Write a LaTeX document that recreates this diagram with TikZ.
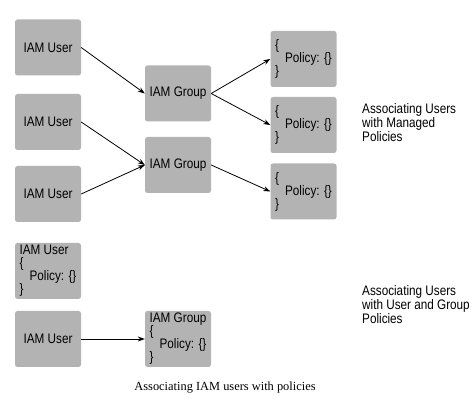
\documentclass[tikz,border=0pt]{standalone}
\usepackage{fontspec}
\usepackage{xcolor}
\usepackage{tikz}
\usetikzlibrary{arrows.meta}
\newfontfamily\boxfont{Liberation Sans}[FakeStretch=0.85]
\newfontfamily\capfont{Liberation Serif}
\definecolor{boxgray}{HTML}{B3B3B3}

\begin{document}
\begin{tikzpicture}[
        x=1pt, y=-1pt,
        box/.style={fill=boxgray, rounded corners=2.5pt, minimum width=66pt, minimum height=56pt, inner sep=0pt, align=left, font=\fontsize{13.8}{13}\boxfont},
        note/.style={anchor=north west, align=left, inner sep=0pt, font=\fontsize{13.8}{14}\boxfont},
        arrow/.style={-{Stealth[length=7pt,width=5pt]}, line width=0.8pt}
    ]
        \useasboundingbox (0,0) rectangle (474,411);

        % Users
        \node[box] (user1) at (48,47.5) {IAM User};
        \node[box] (user2) at (48,122) {IAM User};
        \node[box] (user3) at (48,194) {IAM User};

        % Groups
        \node[box] (group1) at (178,93.5) {IAM Group};
        \node[box] (group2) at (178,165) {IAM Group};

        % Managed policies
        \node[box] (policy1) at (303.5,59) {\{\\\hspace*{10pt}Policy: \{\}\\\}};
        \node[box] (policy2) at (303.5,125) {\{\\\hspace*{10pt}Policy: \{\}\\\}};
        \node[box] (policy3) at (303.5,191.5) {\{\\\hspace*{10pt}Policy: \{\}\\\}};

        % User and group policies
        \node[box] (userpol) at (48,271) {IAM User\\\{\\\hspace*{10pt}Policy: \{\}\\\}};
        \node[box] (user5) at (48,339) {IAM User};
        \node[box] (grouppol) at (178,339) {IAM Group\\\{\\\hspace*{10pt}Policy: \{\}\\\}};

        % Labels
        \node[note] (managed) at (362,103) {Associating Users\\with Managed\\Policies};
        \node[note] (inline) at (362,285) {Associating Users\\with User and Group\\Policies};
        \node[font=\fontsize{12.4}{14}\capfont] (caption) at (225,388) {Associating IAM users with policies};

        % Arrows
        \draw[arrow] (user1.east) -- (group1.west);
        \draw[arrow] (user2.east) -- (group2.west);
        \draw[arrow] (user3.east) -- (group2.west);
        \draw[arrow] (group1.east) -- (policy1.west);
        \draw[arrow] (group1.east) -- (policy2.west);
        \draw[arrow] (group2.east) -- (policy3.west);
        \draw[arrow] (user5.east) -- (grouppol.west);
    \end{tikzpicture}
\end{document}
